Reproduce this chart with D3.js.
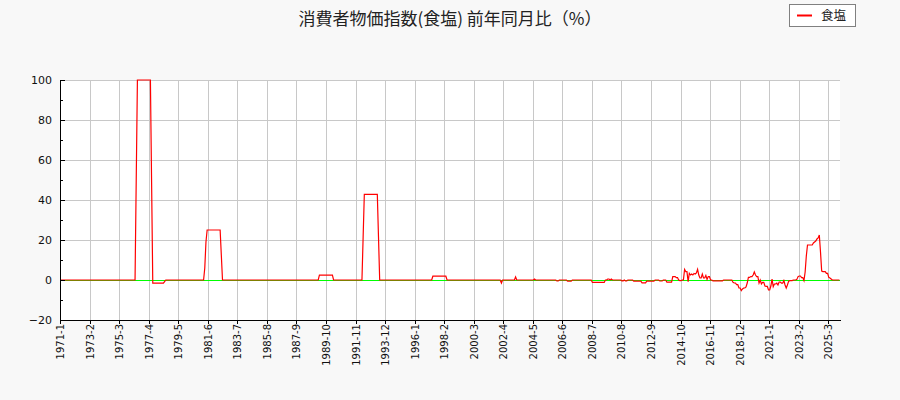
<!DOCTYPE html>
<html>
<head>
<meta charset="utf-8">
<script src="https://cdn.jsdelivr.net/npm/d3@7"></script>
<style>
  body { margin: 0; background: #f8f8f8; }
  svg { display: block; }
</style>
</head>
<body>
<svg id="chart" width="900" height="400"></svg>
<script>
const title = "消費者物価指数(食塩) 前年同月比（%）";
const seriesName = "食塩";
const firstYear = 1971;
const lastYear = 2025;

// 前年同月比 (%), one row per year, Jan..Dec
const saltYoY = [
  0, 0, 0, 0, 0, 0, 0, 0, 0, 0, 0, 0,                         // 1971
  0, 0, 0, 0, 0, 0, 0, 0, 0, 0, 0, 0,                         // 1972
  0, 0, 0, 0, 0, 0, 0, 0, 0, 0, 0, 0,                         // 1973
  0, 0, 0, 0, 0, 0, 0, 0, 0, 0, 0, 0,                         // 1974
  0, 0, 0, 0, 0, 0, 0, 0, 0, 0, 0, 0,                         // 1975
  0, 0, 0, 0, 50, 100, 100, 100, 100, 100, 100, 100,          // 1976
  100, 100, 100, 100, 100, 49, -1.6, -1.6, -1.6, -1.6, -1.6, -1.6, // 1977
  -1.6, -1.6, -1.6, -1.6, -0.8, 0, 0, 0, 0, 0, 0, 0,          // 1978
  0, 0, 0, 0, 0, 0, 0, 0, 0, 0, 0, 0,                         // 1979
  0, 0, 0, 0, 0, 0, 0, 0, 0, 0, 0, 0,                         // 1980
  0, 0, 6, 19, 25, 25, 25, 25, 25, 25, 25, 25,                // 1981
  25, 25, 25, 25, 12.5, 0, 0, 0, 0, 0, 0, 0,                  // 1982
  0, 0, 0, 0, 0, 0, 0, 0, 0, 0, 0, 0,                         // 1983
  0, 0, 0, 0, 0, 0, 0, 0, 0, 0, 0, 0,                         // 1984
  0, 0, 0, 0, 0, 0, 0, 0, 0, 0, 0, 0,                         // 1985
  0, 0, 0, 0, 0, 0, 0, 0, 0, 0, 0, 0,                         // 1986
  0, 0, 0, 0, 0, 0, 0, 0, 0, 0, 0, 0,                         // 1987
  0, 0, 0, 0, 0, 0, 0, 0, 0, 0, 0, 0,                         // 1988
  0, 0, 0, 2.4, 2.4, 2.4, 2.4, 2.4, 2.4, 2.4, 2.4, 2.4,       // 1989
  2.4, 2.4, 2.4, 0, 0, 0, 0, 0, 0, 0, 0, 0,                   // 1990
  0, 0, 0, 0, 0, 0, 0, 0, 0, 0, 0, 0,                         // 1991
  0, 0, 0, 0, 21.5, 42.8, 42.8, 42.8, 42.8, 42.8, 42.8, 42.8, // 1992
  42.8, 42.8, 42.8, 42.8, 42.8, 21.5, 0, 0, 0, 0, 0, 0,       // 1993
  0, 0, 0, 0, 0, 0, 0, 0, 0, 0, 0, 0,                         // 1994
  0, 0, 0, 0, 0, 0, 0, 0, 0, 0, 0, 0,                         // 1995
  0, 0, 0, 0, 0, 0, 0, 0, 0, 0, 0, 0,                         // 1996
  0, 0, 0, 1.9, 1.9, 1.9, 1.9, 1.9, 1.9, 1.9, 1.9, 1.9,       // 1997
  1.9, 1.9, 1.9, 0, 0, 0, 0, 0, 0, 0, 0, 0,                   // 1998
  0, 0, 0, 0, 0, 0, 0, 0, 0, 0, 0, 0,                         // 1999
  0, 0, 0, 0, 0, 0, 0, 0, 0, 0, 0, 0,                         // 2000
  0, 0, 0, 0, 0, 0, 0, 0, 0, 0, 0, 0,                         // 2001
  0, -1.5, 0, 0, 0, 0, 0, 0, 0, 0, 0, 0,                      // 2002
  0, 1.5, 0, 0, 0, 0, 0, 0, 0, 0, 0, 0,                       // 2003
  0, 0, 0, 0, 0, 0.5, 0, 0, 0, 0, 0, 0,                       // 2004
  0, 0, 0, 0, 0, 0, 0, 0, 0, 0, 0, 0,                         // 2005
  -0.5, -0.5, 0, 0, 0, 0, 0, 0, 0, -0.6, -0.6, -0.6,          // 2006
  -0.6, 0, 0, 0, 0, 0, 0, 0, 0, 0, 0, 0,                      // 2007
  0, 0, 0, 0, 0, 0, -1.2, -1.2, -1.2, -1.2, -1.2, -1.2,       // 2008
  -1.2, -1.2, -1.2, -1.2, -1.2, 0, 0, 0.5, 0.5, 0, 0.5, 0,    // 2009
  0, 0, 0, 0, 0, 0, 0, -0.4, -0.4, 0, -0.5, -0.5,             // 2010
  0, 0, 0, 0, 0, -0.6, -0.6, -0.6, -0.6, -0.6, -0.6, -0.6,    // 2011
  -1.4, -1.4, -1.4, -1.4, -0.6, -0.6, -0.6, -0.6, -0.6, -0.6, -0.6, 0, // 2012
  0, 0, 0, -0.5, -0.5, -0.5, 0, 0, 0, -1.1, -1.1, -1.1,       // 2013
  -1.1, -1.1, 1.7, 1.7, 1.7, 1.2, 1.2, 0, -0.3, -0.3, 0, 0,   // 2014
  5.3, 4.2, 4.2, -0.8, 3.3, 2.5, 3, 2.5, 3.3, 3, 3.5, 5.3,    // 2015
  2.5, 1, 1, 3, 1, 1, 2.3, 0.3, 1.7, 1.7, 0, 0,               // 2016
  -0.4, -0.4, -0.4, -0.4, -0.4, -0.4, -0.4, -0.4, -0.4, 0, 0, 0, // 2017
  0, 0, 0, 0, 0, -1.2, -1.5, -1.5, -2.3, -2.3, -4, -4,        // 2018
  -5.3, -4.5, -4, -4, -3.5, -1.5, 1.3, 1.3, 1.7, 1.7, 2.5, 4, // 2019
  2.5, 1.7, 1.7, -1.5, 0, -2, -1.2, -1.2, -3, -3.2, -3.2, -5, // 2020
  -5, -3, 0.5, -3.3, -2, -2, -1.6, -2.5, -1, -1, -1.6, -1.6,  // 2021
  -0.3, -2.5, -4, -2.5, -0.7, -0.3, -0.3, -0.3, 0, 0, 0, 0.3, // 2022
  1.7, 2, 2, 1.2, 1.2, -0.3, 4, 12, 17.5, 17.5, 17.5, 17.5,   // 2023
  17.5, 18.5, 19, 19.5, 20.5, 21, 22.5, 14, 4.5, 4.2, 4.2, 4.2, // 2024
  3.3, 3.3, 1.3, 1, 0.5, 0, 0, 0, 0, 0, 0, 0                  // 2025
];

const tickLabels = [
  "1971-1", "1973-2", "1975-3", "1977-4", "1979-5", "1981-6", "1983-7",
  "1985-8", "1987-9", "1989-10", "1991-11", "1993-12", "1996-1", "1998-2",
  "2000-3", "2002-4", "2004-5", "2006-6", "2008-7", "2010-8", "2012-9",
  "2014-10", "2016-11", "2018-12", "2021-1", "2023-2", "2025-3"
];
const yMajor = [-20, 0, 20, 40, 60, 80, 100];
const yMinor = [-10, 10, 30, 50, 70, 90];

// month categories "YYYY-M"
const months = [];
for (let yr = firstYear; yr <= lastYear; yr++) {
  for (let m = 1; m <= 12; m++) months.push(yr + "-" + m);
}
const data = months.map((m, i) => ({ month: m, value: saltYoY[i] }));

const svg = d3.select("#chart");
const plotLeft = 60, plotRight = 840, plotTop = 80, plotBottom = 320;

const x = d3.scaleBand().domain(months).range([plotLeft, plotRight]);
const cx = m => x(m) + x.bandwidth() / 2;
const y = d3.scaleLinear().domain([-20, 100]).range([plotBottom, plotTop]);

svg.append("rect")
  .attr("x", plotLeft).attr("y", plotTop)
  .attr("width", plotRight - plotLeft).attr("height", plotBottom - plotTop)
  .attr("fill", "#fff");

// grid
const grid = svg.append("g")
  .attr("stroke", "#c8c8c8")
  .attr("stroke-width", 1)
  .attr("shape-rendering", "crispEdges");

grid.selectAll("line.v")
  .data(tickLabels)
  .enter().append("line")
  .attr("class", "v")
  .attr("x1", d => cx(d)).attr("x2", d => cx(d))
  .attr("y1", plotTop).attr("y2", plotBottom);

grid.selectAll("line.h")
  .data(yMajor)
  .enter().append("line")
  .attr("class", "h")
  .attr("x1", plotLeft).attr("x2", plotRight)
  .attr("y1", d => y(d)).attr("y2", d => y(d));

// zero line
svg.append("line")
  .attr("x1", plotLeft).attr("x2", plotRight)
  .attr("y1", y(0)).attr("y2", y(0))
  .attr("stroke", "#00ff00")
  .attr("stroke-width", 1)
  .attr("shape-rendering", "crispEdges");

// series
const line = d3.line()
  .x(d => cx(d.month))
  .y(d => y(d.value));

svg.append("path")
  .datum(data)
  .attr("d", line)
  .attr("fill", "none")
  .attr("stroke", "#ff0000")
  .attr("stroke-width", 1.2);

// y axis
const yAxis = svg.append("g")
  .attr("transform", `translate(${plotLeft},0)`)
  .call(d3.axisLeft(y).tickValues(yMajor).tickSize(-5).tickSizeOuter(0).tickPadding(8));

svg.append("g")
  .attr("transform", `translate(${plotLeft},0)`)
  .call(d3.axisLeft(y).tickValues(yMinor).tickSize(-3).tickSizeOuter(0).tickFormat(""))
  .select(".domain").remove();

yAxis.selectAll("text")
  .attr("font-family", "DejaVu Sans")
  .attr("font-size", 11)
  .attr("fill", "#111");

// x axis
const xAxis = svg.append("g")
  .attr("transform", `translate(0,${plotBottom})`)
  .call(d3.axisBottom(x).tickValues(tickLabels).tickSize(4).tickSizeOuter(0));

xAxis.selectAll("text")
  .attr("transform", "rotate(-90)")
  .attr("text-anchor", "end")
  .attr("x", -4)
  .attr("y", 0)
  .attr("dy", "0.35em")
  .attr("font-family", "DejaVu Sans")
  .attr("font-size", 10)
  .attr("fill", "#111");

svg.selectAll(".domain, .tick line")
  .attr("stroke", "#000")
  .attr("shape-rendering", "crispEdges");

// title
svg.append("text")
  .attr("x", 450).attr("y", 25)
  .attr("text-anchor", "middle")
  .attr("font-family", "Noto Sans CJK JP")
  .attr("font-size", 17)
  .attr("fill", "#222")
  .text(title);

// legend
const legend = svg.append("g");
legend.append("rect")
  .attr("x", 789.5).attr("y", 4.5)
  .attr("width", 66).attr("height", 22)
  .attr("fill", "#fff")
  .attr("stroke", "#808080");
legend.append("line")
  .attr("x1", 797).attr("x2", 812)
  .attr("y1", 15.5).attr("y2", 15.5)
  .attr("stroke", "#ff0000")
  .attr("stroke-width", 2);
legend.append("text")
  .attr("x", 821).attr("y", 20)
  .attr("font-family", "Noto Sans CJK JP")
  .attr("font-size", 12.5)
  .attr("fill", "#222")
  .text(seriesName);
</script>
</body>
</html>
